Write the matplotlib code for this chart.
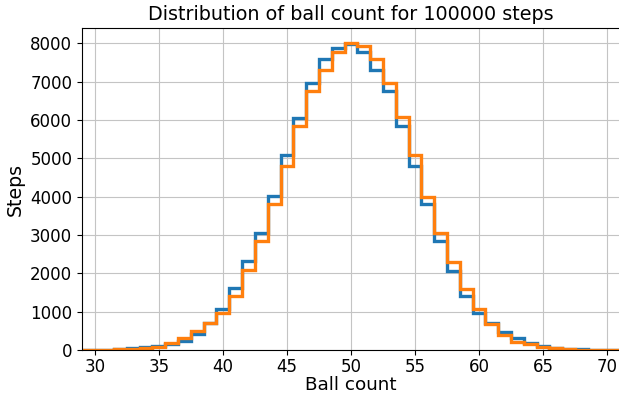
import numpy as np
import matplotlib
matplotlib.use('Agg')
import matplotlib.pyplot as plt

#Data (counts per ball count value)
ball_counts = np.arange(29, 72)
blue_counts = [1, 2, 5, 20, 40, 65, 100, 150, 240, 410, 695, 1065, 1610, 2320,
               3045, 4010, 5100, 6060, 6970, 7600, 7880, 7990, 7770, 7300, 6750,
               5850, 4810, 3800, 2845, 2070, 1420, 975, 700, 478, 300, 170, 95,
               55, 30, 15, 7, 3, 1]
orange_counts = [1, 3, 7, 15, 30, 55, 90, 172, 305, 495, 712, 975, 1420, 2090,
                 2855, 3800, 4810, 5855, 6755, 7300, 7775, 8000, 7925, 7585, 6970,
                 6085, 5100, 4000, 3043, 2305, 1585, 1060, 680, 395, 200, 155, 90,
                 50, 25, 12, 5, 2, 1]

bins = np.arange(ball_counts[0] - 0.5, ball_counts[-1] + 1.5, 1)

fig = plt.figure(figsize=(6.19, 3.94), dpi=100)
ax = fig.add_axes([0.1325, 0.1117, 0.869, 0.817])

#Plotting the histograms
ax.hist(ball_counts, bins=bins, weights=blue_counts, histtype='step', color='#1f77b4', linewidth=2.4)
ax.hist(ball_counts, bins=bins, weights=orange_counts, histtype='step', color='#ff7f0e', linewidth=2.4)

ax.set_xlim(29, 71)
ax.set_ylim(0, 8400)
ax.grid(True, color='#c4c4c4')
ax.set_axisbelow(True)
ax.tick_params(labelsize=12)
ax.tick_params(axis='x', pad=2.5)
ax.set_title('Distribution of ball count for 100000 steps', fontsize=13.8)
ax.set_xlabel('Ball count', fontsize=13.2, labelpad=0)
ax.set_ylabel('Steps', fontsize=13.6)

plt.savefig('out.png', dpi=100)
